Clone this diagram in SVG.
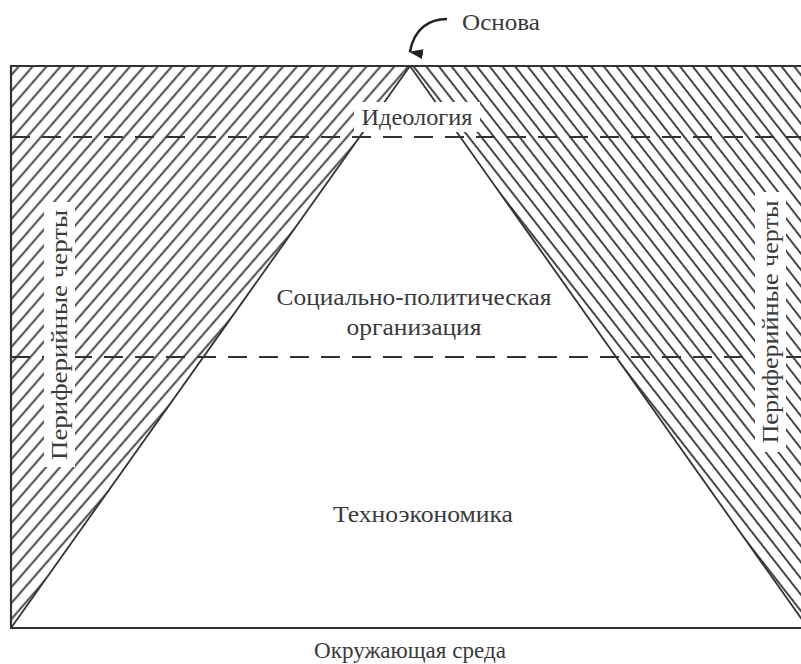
<svg xmlns="http://www.w3.org/2000/svg" width="801" height="664" viewBox="0 0 801 664">
<style>
.t{font-family:"Liberation Serif","DejaVu Serif",serif;font-size:23px;fill:#3a3a3a}
.hl{stroke:#333;stroke-width:1.8}
.bd{stroke:#333;stroke-width:2.2;fill:none}
.dash{stroke:#333;stroke-width:2.2;stroke-dasharray:19 12;fill:none}
</style>
<defs>
<pattern id="hatchL" patternUnits="userSpaceOnUse" width="10.5" height="20" patternTransform="rotate(41)">
<line class="hl" x1="5.25" y1="-1" x2="5.25" y2="21"/>
</pattern>
<pattern id="hatchR" patternUnits="userSpaceOnUse" width="10" height="20" patternTransform="rotate(-38)">
<line class="hl" x1="5" y1="-1" x2="5" y2="21"/>
</pattern>
<marker id="ah" markerWidth="10" markerHeight="14" refX="5" refY="13" orient="auto" markerUnits="userSpaceOnUse" viewBox="0 0 10 14">
<path d="M0,0 L10,0 L5,14 Z" fill="#222"/>
</marker>
</defs>
<rect width="801" height="664" fill="#fff"/>
<g id="periphery-left">
<polygon points="11,66 410,66 11,628" fill="url(#hatchL)"/>
<line class="hl" x1="410" y1="66" x2="11" y2="628"/>
</g>
<g id="periphery-right">
<polygon points="410,66 801,66 801,628 808,628" fill="url(#hatchR)"/>
<line class="hl" x1="410" y1="66" x2="808" y2="628"/>
</g>
<g id="frame">
<polyline class="bd" points="801,66 11,66 11,628 801,628"/>
</g>
<g id="levels">
<line class="dash" x1="11" y1="137" x2="801" y2="137"/>
<line class="dash" x1="11" y1="357" x2="801" y2="357"/>
</g>
<g id="ideology">
<rect x="354" y="102" width="126" height="30" fill="#fff"/>
<text class="t" x="417" y="125" text-anchor="middle" textLength="111" lengthAdjust="spacingAndGlyphs">Идеология</text>
</g>
<g id="social">
<text class="t" x="414" y="305" text-anchor="middle" textLength="275" lengthAdjust="spacingAndGlyphs">Социально-политическая</text>
<text class="t" x="414" y="335" text-anchor="middle" textLength="135" lengthAdjust="spacingAndGlyphs">организация</text>
</g>
<g id="techno">
<text class="t" x="423" y="522" text-anchor="middle" textLength="180" lengthAdjust="spacingAndGlyphs">Техноэкономика</text>
</g>
<g id="environment">
<text class="t" x="410" y="658" text-anchor="middle" textLength="192" lengthAdjust="spacingAndGlyphs">Окружающая среда</text>
</g>
<g id="label-left">
<rect x="44" y="202" width="31" height="265" fill="#fff"/>
<text class="t" transform="translate(67,335) rotate(-90)" text-anchor="middle" textLength="250" lengthAdjust="spacingAndGlyphs">Периферийные черты</text>
</g>
<g id="label-right">
<rect x="755" y="192" width="31" height="260" fill="#fff"/>
<text class="t" transform="translate(778,322) rotate(-90)" text-anchor="middle" textLength="243" lengthAdjust="spacingAndGlyphs">Периферийные черты</text>
</g>
<g id="basis">
<text class="t" x="501" y="30" text-anchor="middle" textLength="78" lengthAdjust="spacingAndGlyphs">Основа</text>
</g>
<g id="connectors">
<path d="M447,19 C430,19 414,28 410,52" stroke="#222" stroke-width="2.5" fill="none" marker-end="url(#ah)"/>
</g>
</svg>
